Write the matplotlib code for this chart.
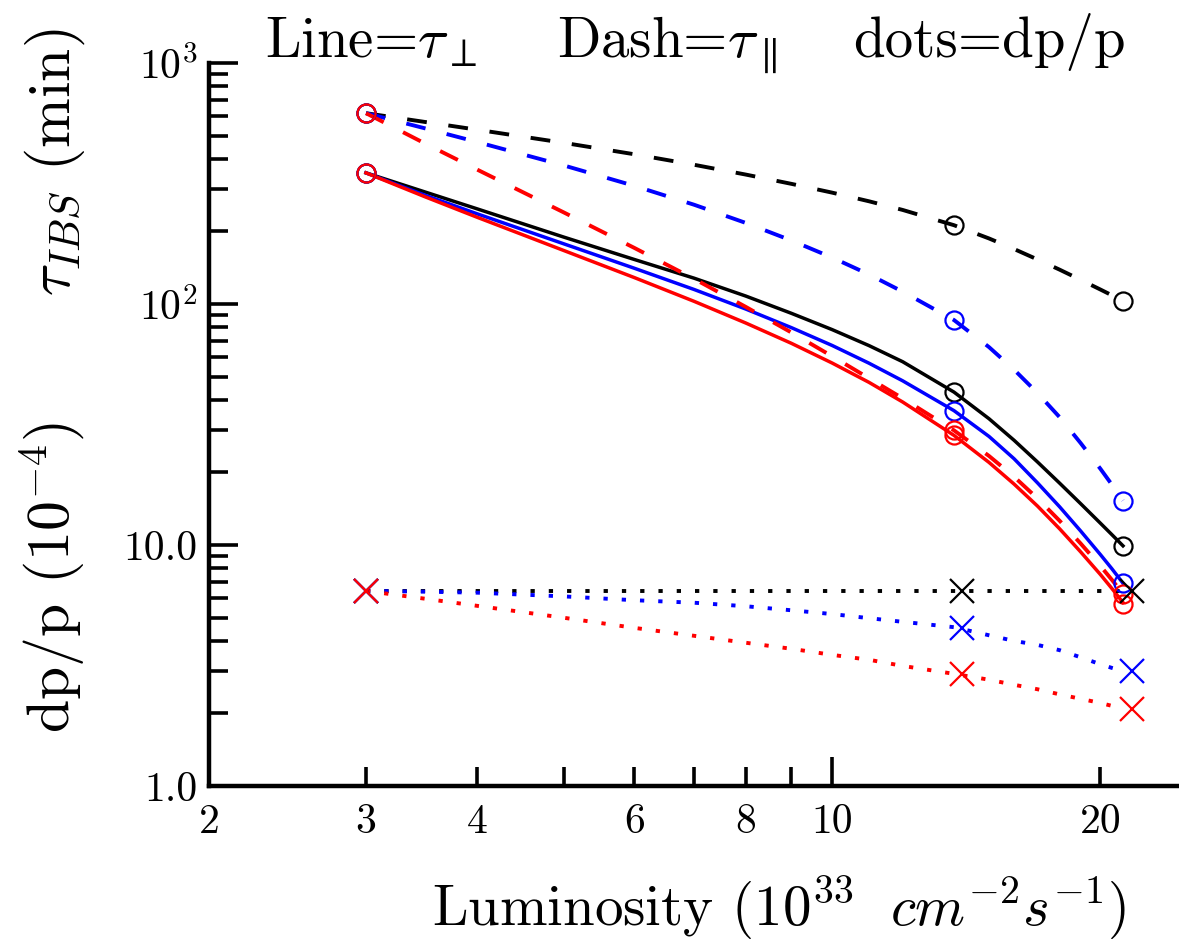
import matplotlib
matplotlib.use('Agg')
import matplotlib.pyplot as plt

plt.rcParams['font.family'] = 'serif'
plt.rcParams['font.serif'] = ['cmr10']
plt.rcParams['mathtext.fontset'] = 'cm'
plt.rcParams['axes.unicode_minus'] = False
plt.rcParams['axes.formatter.use_mathtext'] = True

lum = [3, 3.5, 4, 5, 6, 7, 8, 9, 10, 11, 12, 13.7, 15, 16, 17, 18, 19, 20, 20.6, 21.2]
# circle markers sit on these
lum_pts = [3, 13.7, 21.2]
# crosses for dp/p
lum_x = [3, 14.0, 21.7]

# tau perpendicular (solid), minutes
tperp_k = [350, 291, 248, 189.5, 153, 128, 107.9, 91.5, 78.3, 67.2, 57.6, 43.1,
           33.4, 27.2, 22.1, 18.05, 14.85, 12.31, 11.04, 9.92]
tperp_b = [350, 282, 236.5, 177.7, 140.7, 114.9, 95.3, 79.8, 67.3, 56.8, 48.0, 36.1,
           28.2, 22.8, 18.1, 14.4, 11.44, 9.12, 7.97, 6.94]
tperp_r = [350, 277.8, 228.8, 166.7, 128.7, 102.6, 83.4, 68.7, 56.9, 47.3, 39.2, 28.5,
           22.0, 17.9, 14.5, 11.67, 9.37, 7.54, 6.60, 5.77]
# tau parallel (dashed), minutes
tpar_k = [619, 568.7, 528.4, 466.4, 418.1, 378.2, 344.4, 315.2, 289.8, 266.8, 245.6, 212.3,
          187, 169.1, 153.0, 138.8, 126.0, 114.8, 108.7, 102.9]
tpar_b = [619, 534.7, 469.7, 375.8, 309.2, 258.2, 217.0, 183.5, 155.9, 132.6, 112.5, 85.8,
          66.2, 53.4, 42.7, 33.9, 26.5, 20.7, 17.8, 15.3]
tpar_r = [619, 461.9, 360.8, 239.9, 170.9, 127.2, 97.3, 76.2, 60.7, 49.2, 40.6, 29.9,
          23.4, 19.2, 15.6, 12.6, 10.15, 8.18, 7.17, 6.28]
# dp/p (dotted), units of 1e-4
dpp_k = [6.45, 6.45, 6.45, 6.45, 6.45, 6.45, 6.45, 6.45, 6.45, 6.45, 6.45, 6.45,
         6.45, 6.45, 6.45, 6.45, 6.45, 6.45, 6.45, 6.45]
dpp_b = [6.45, 6.40, 6.34, 6.12, 5.90, 5.76, 5.57, 5.36, 5.17, 4.97, 4.80, 4.56,
         4.22, 4.00, 3.85, 3.66, 3.42, 3.20, 3.09, 3.00]
dpp_r = [6.45, 5.98, 5.59, 4.99, 4.53, 4.20, 3.93, 3.71, 3.50, 3.34, 3.15, 2.92,
         2.76, 2.63, 2.52, 2.40, 2.30, 2.21, 2.15, 2.11]

# marker values
tperp_k_pts = [350, 43.1, 9.92]
tperp_b_pts = [350, 36.1, 6.94]
tperp_r_pts = [350, 28.5, 5.7]
tpar_k_pts = [619, 213, 102.9]
tpar_b_pts = [619, 85.8, 15.2]
tpar_r_pts = [619, 29.9, 6.28]
dpp_k_pts = [6.45, 6.45, 6.45]
dpp_b_pts = [6.45, 4.53, 3.00]
dpp_r_pts = [6.45, 2.92, 2.09]

xticks_minor = [2, 3, 4, 5, 6, 7, 8, 9, 20]
xlabels_minor = ['2', '3', '4', '', '6', '', '8', '', '20']
yticks = [1, 10, 100, 1000]
ylabels = ['1.0', '10.0', r'$10^2$', r'$10^3$']

fig = plt.figure(figsize=(11.79, 9.43), dpi=100)
ax = fig.add_axes([0.1773, 0.1665, 0.8227, 0.7667])

colors = ['black', 'blue', 'red']
solid = [tperp_k, tperp_b, tperp_r]
dashed = [tpar_k, tpar_b, tpar_r]
dotted = [dpp_k, dpp_b, dpp_r]
solid_pts = [tperp_k_pts, tperp_b_pts, tperp_r_pts]
dashed_pts = [tpar_k_pts, tpar_b_pts, tpar_r_pts]
dotted_pts = [dpp_k_pts, dpp_b_pts, dpp_r_pts]

for c, ys in zip(colors, solid):
    ax.plot(lum, ys, '-', color=c, lw=2.5)
for c, ys in zip(colors, dashed):
    ax.plot(lum, ys, '--', color=c, lw=2.8, dashes=(5.1, 5.6))
for c, ys in zip(colors, dotted):
    ax.plot(lum, ys, ':', color=c, lw=2.8, dashes=(1.1, 3.6))

for c, ys in zip(colors, solid_pts):
    ax.plot(lum_pts, ys, 'o', mfc='none', mec=c, ms=13, mew=1.6)
for c, ys in zip(colors, dashed_pts):
    ax.plot(lum_pts, ys, 'o', mfc='none', mec=c, ms=13, mew=1.6)
for c, ys in zip(colors, dotted_pts):
    ax.plot(lum_x, ys, 'x', color=c, ms=17, mew=1.6)

ax.set_xscale('log')
ax.set_yscale('log')
ax.set_xlim(2, 24.5)
ax.set_ylim(1, 1000)

ax.set_xticks([10], ['10'])
ax.set_xticks(xticks_minor, xlabels_minor, minor=True)
ax.set_yticks(yticks, ylabels)

ax.spines['top'].set_visible(False)
ax.spines['right'].set_visible(False)
ax.spines['left'].set_linewidth(3.2)
ax.spines['bottom'].set_linewidth(3.2)

ax.tick_params(which='both', direction='in', width=2.6, labelsize=30, top=False, right=False)
ax.tick_params(which='major', length=21)
ax.tick_params(which='minor', length=13.5)
ax.tick_params(axis='y', which='both', pad=8)
ax.tick_params(axis='x', which='both', pad=13)

# header with line style key
fig.text(265 / 1179, 1 - 57 / 943, r'Line=$\tau_{\perp}$', fontsize=41, va='baseline', ha='left')
fig.text(557 / 1179, 1 - 57 / 943, r'Dash=$\tau_{\parallel}$', fontsize=41, va='baseline', ha='left')
fig.text(853 / 1179, 1 - 57 / 943, r'dots=dp/p', fontsize=41, va='baseline', ha='left')

# two y labels stacked
fig.text(55 / 1179, 1 - 162 / 943, r'$\tau_{IBS}$ (min)', fontsize=43, rotation=90, ha='center', va='center')
fig.text(52 / 1179, 1 - 577 / 943, r'dp/p ($10^{-4}$)', fontsize=43, rotation=90, ha='center', va='center')

fig.text(432 / 1179, 18 / 943, r'Luminosity $(10^{33}\ \ cm^{-2}s^{-1})$', fontsize=41, va='baseline', ha='left')

plt.savefig('out.png', dpi=100)
